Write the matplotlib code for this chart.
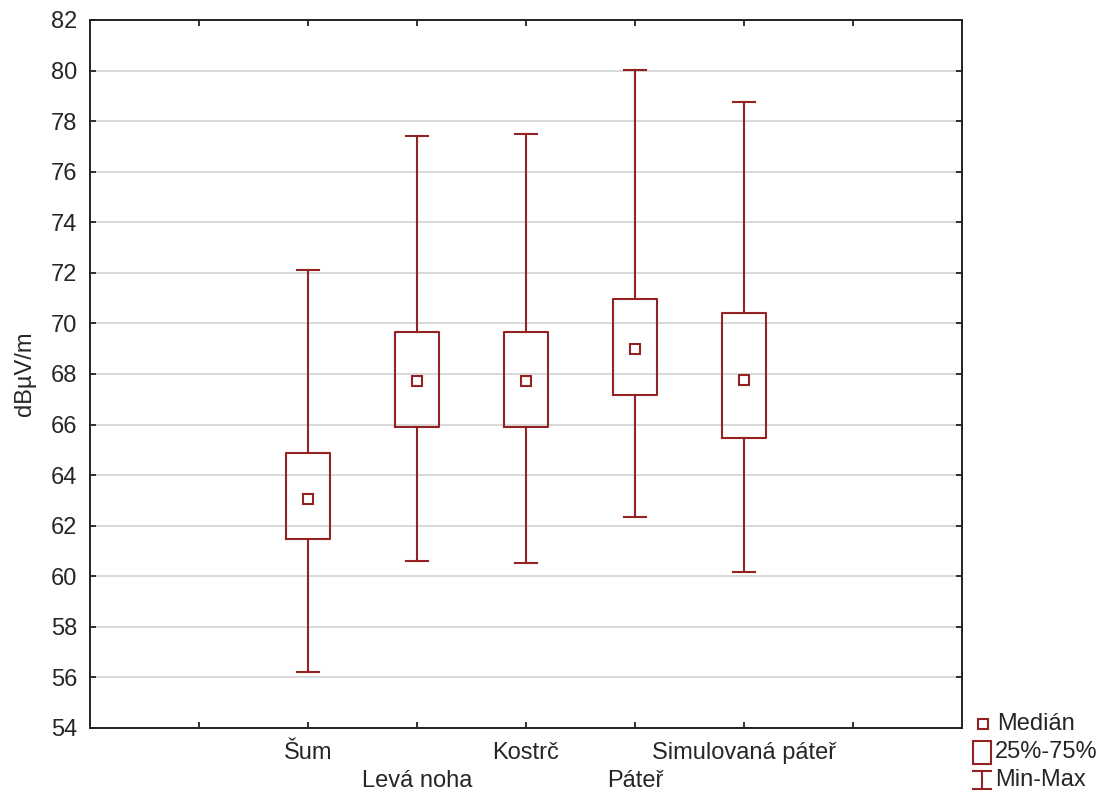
import matplotlib
matplotlib.use("Agg")
import matplotlib.pyplot as plt
from matplotlib.patches import Rectangle
from matplotlib.lines import Line2D

plt.rcParams['font.family'] = ['Liberation Sans', 'DejaVu Sans']

categories = ["Šum", "Levá noha", "Kostrč", "Páteř", "Simulovaná páteř"]
minimum = [56.22, 60.61, 60.53, 62.35, 60.17]
q1 = [61.48, 65.91, 65.91, 67.17, 65.47]
median = [63.06, 67.73, 67.73, 69.00, 67.77]
q3 = [64.88, 69.66, 69.66, 70.97, 70.41]
maximum = [72.10, 77.41, 77.49, 80.02, 78.76]

yticks = list(range(54, 83, 2))
positions = [2, 3, 4, 5, 6]

color = '#952222'
fs = 17
tc = '#262626'

fig = plt.figure(figsize=(11.04, 7.93), dpi=100)
ax = fig.add_axes([90/1104, 1-728/793, (962-90)/1104, (728-20)/793])

stats = []
for i, c in enumerate(categories):
    stats.append(dict(label=c, med=median[i], q1=q1[i], q3=q3[i],
                      whislo=minimum[i], whishi=maximum[i], fliers=[]))

lp = dict(color=color, linewidth=1.5)
ax.bxp(stats, positions=positions, widths=0.41, capwidths=0.2,
       showfliers=False,
       boxprops=lp, whiskerprops=lp, capprops=lp,
       medianprops=dict(linestyle='none'), zorder=3)
ax.plot(positions, median, linestyle='none', marker='s', markersize=6.8,
        markerfacecolor='white', markeredgecolor=color, markeredgewidth=1.5, zorder=4)

ax.set_xlim(0, 8)
ax.set_ylim(54, 82)
ax.set_yticks(yticks)
ax.set_yticklabels([str(t) for t in yticks], fontsize=fs)
ax.set_xticks(range(1, 8))
labels = [""] * 7
for i, c in enumerate(categories):
    labels[positions[i] - 1] = c if i % 2 == 0 else "\n" + c
ax.set_xticklabels(labels, fontsize=fs, linespacing=1.38)
ax.tick_params(direction='in', top=True, right=True, length=4, width=1.3,
               colors='#222222', labelcolor=tc)
ax.tick_params(axis='x', pad=10)
ax.tick_params(axis='y', pad=9)
ax.yaxis.grid(True, color='#d8d8d8', linewidth=1.4)
ax.set_axisbelow(True)
for s in ax.spines.values():
    s.set_linewidth(1.4)
    s.set_color('#222222')
ax.set_ylabel("dBµV/m", fontsize=fs, color=tc, labelpad=11)

# Legend (drawn in figure pixel coordinates)
W, H = 1104, 793
def fx(px):
    return px / W
def fy(py):
    return 1 - py / H

fig.add_artist(Line2D([fx(983)], [fy(724)], marker='s', markersize=6.8,
                      markerfacecolor='white', markeredgecolor=color,
                      markeredgewidth=1.5, linestyle='none', transform=fig.transFigure))
fig.text(fx(997), fy(724), "Medián", fontsize=fs, va='center', ha='left', color=tc)

fig.add_artist(Rectangle((fx(973), fy(764)), fx(18), 23/H, fill=False,
                         edgecolor=color, linewidth=1.5, transform=fig.transFigure))
fig.text(fx(995), fy(752), "25%-75%", fontsize=fs, va='center', ha='left', color=tc)

for seg in [((973, 991), (771, 771)), ((973, 991), (789, 789)), ((982, 982), (771, 789))]:
    fig.add_artist(Line2D([fx(seg[0][0]), fx(seg[0][1])], [fy(seg[1][0]), fy(seg[1][1])],
                          color=color, linewidth=1.5, transform=fig.transFigure))
fig.text(fx(995), fy(780), "Min-Max", fontsize=fs, va='center', ha='left', color=tc)

fig.savefig("out.png", dpi=100, facecolor='white')
